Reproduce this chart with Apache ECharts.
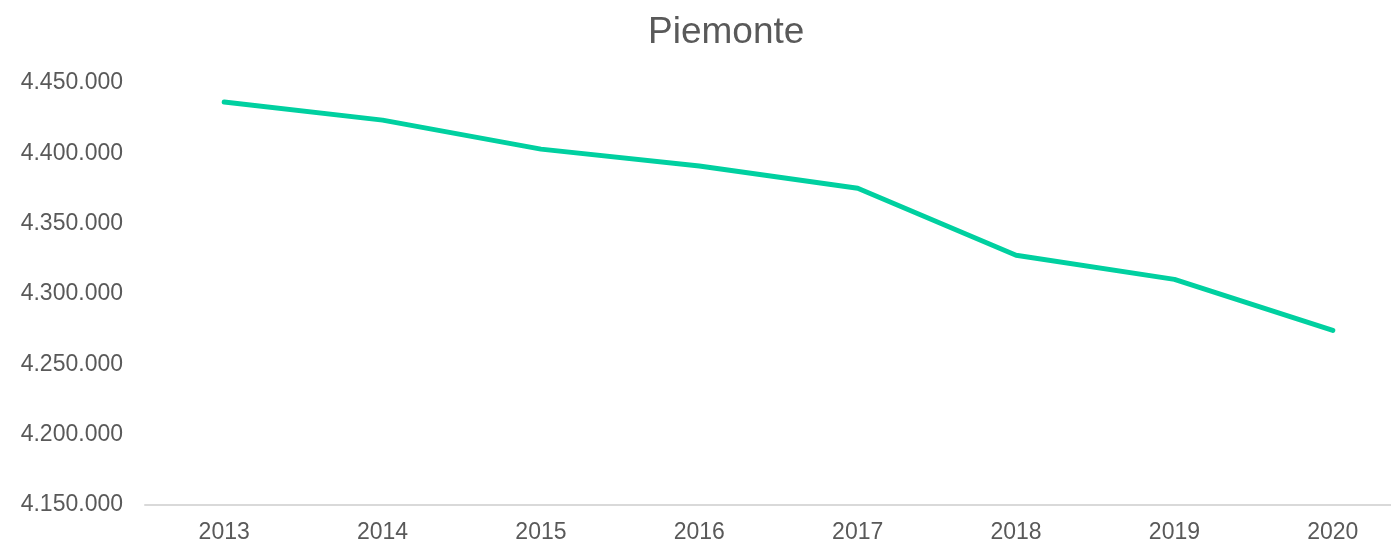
<!DOCTYPE html>
<html>
<head>
<meta charset="utf-8">
<script src="https://cdn.jsdelivr.net/npm/echarts@6/dist/echarts.min.js"></script>
<style>
    html, body { margin: 0; padding: 0; background: #fff; }
    #chart { width: 1391px; height: 545px; }
</style>
</head>
<body>
<div id="chart"></div>
<script>
// anni e popolazione residente
const anni = ['2013', '2014', '2015', '2016', '2017', '2018', '2019', '2020'];
const popolazione = [4436500, 4423600, 4403000, 4391000, 4375200, 4327500, 4310400, 4274100];
const yMin = 4150000;
const yMax = 4450000;
const yStep = 50000;

function formatIt(val) {
    return String(val).replace(/\B(?=(\d{3})+(?!\d))/g, '.');
}

const chart = echarts.init(document.getElementById('chart'));

let option = {
    animation: false,
    textStyle: {
        fontFamily: 'Liberation Sans, Arial, sans-serif'
    },
    title: {
        text: 'Piemonte',
        left: 643,
        top: 9,
        textStyle: {
            color: '#595959',
            fontSize: 37,
            fontWeight: 'normal'
        }
    },
    grid: {
        left: 145,
        right: -21,
        top: 83,
        bottom: 40,
        outerBoundsMode: 'none',
        containLabel: false
    },
    xAxis: {
        type: 'category',
        data: anni,
        boundaryGap: true,
        axisLine: {
            lineStyle: {
                color: '#d9d9d9',
                width: 2
            }
        },
        axisTick: {
            show: false
        },
        axisLabel: {
            color: '#595959',
            fontSize: 23,
            margin: 16
        }
    },
    yAxis: {
        type: 'value',
        min: yMin,
        max: yMax,
        interval: yStep,
        axisLine: { show: false },
        axisTick: { show: false },
        splitLine: { show: false },
        axisLabel: {
            color: '#595959',
            fontSize: 23,
            margin: 22,
            formatter: formatIt
        }
    },
    series: [
        {
            type: 'line',
            data: popolazione,
            symbol: 'none',
            lineStyle: {
                color: '#00d0a0',
                width: 5,
                cap: 'round',
                join: 'round'
            }
        }
    ]
};
chart.setOption(option);
</script>
</body>
</html>
